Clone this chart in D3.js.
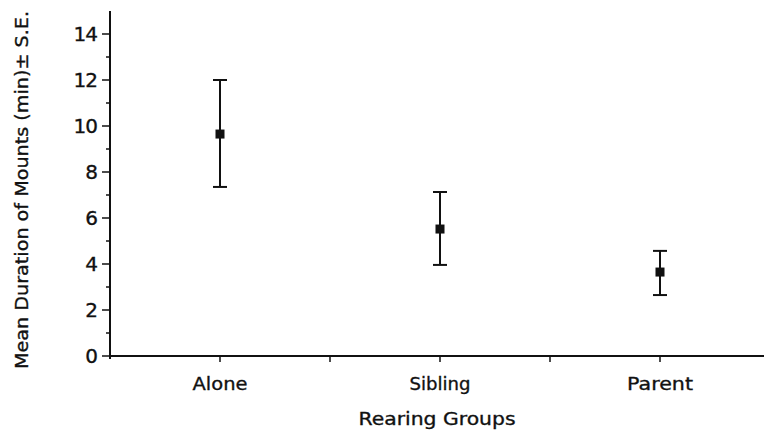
<!DOCTYPE html>
<html>
<head>
<meta charset="utf-8">
<script src="https://cdn.jsdelivr.net/npm/d3@7"></script>
<style>
  html, body { margin: 0; padding: 0; background: #fff; }
  svg { display: block; }
  text { font-family: "DejaVu Sans", sans-serif; fill: #111; stroke: #111; stroke-width: 0.35; }
</style>
</head>
<body>
<svg id="chart" width="764" height="432"></svg>
<script>
// Data
const categories = ["Alone", "Sibling", "Parent"];
const means = [9.65, 5.52, 3.65];
const upper = [12.0, 7.13, 4.57];
const lower = [7.35, 3.96, 2.65];
const yTicks = [0, 2, 4, 6, 8, 10, 12, 14];
const yMinorTicks = [1, 3, 5, 7, 9, 11, 13];
const xLabel = "Rearing Groups";
const yLabel = "Mean Duration of Mounts (min)± S.E.";

const svg = d3.select("#chart");
const x = d3.scaleLinear().domain([0.5, 3.5]).range([110, 770]);
const y = d3.scaleLinear().domain([0, 15]).range([356, 11]);

// Y axis
const yAxis = svg.append("g").attr("transform", "translate(110,0)");
yAxis.append("line").attr("x1", 0).attr("x2", 0).attr("y1", y(15)).attr("y2", y(0) + 3)
  .attr("stroke", "#111").attr("stroke-width", 2);
yAxis.selectAll(".maj").data(yTicks).enter().append("line")
  .attr("x1", -8).attr("x2", 0).attr("y1", d => y(d)).attr("y2", d => y(d))
  .attr("stroke", "#111").attr("stroke-width", 1.5);
yAxis.selectAll(".min").data(yMinorTicks).enter().append("line")
  .attr("x1", -4).attr("x2", 0).attr("y1", d => y(d)).attr("y2", d => y(d))
  .attr("stroke", "#111").attr("stroke-width", 1.5);
yAxis.selectAll(".lab").data(yTicks).enter().append("text")
  .attr("x", -13).attr("y", d => y(d)).attr("dy", "0.36em")
  .attr("text-anchor", "end").attr("font-size", 20).attr("letter-spacing", -1)
  .text(d => d);

// X axis
const xAxis = svg.append("g");
xAxis.append("line").attr("x1", x(0.5)).attr("x2", x(3.5)).attr("y1", y(0)).attr("y2", y(0))
  .attr("stroke", "#111").attr("stroke-width", 2);
const xTickVals = [1, 1.5, 2, 2.5, 3];
xAxis.selectAll(".xt").data(xTickVals).enter().append("line")
  .attr("x1", d => x(d)).attr("x2", d => x(d)).attr("y1", y(0)).attr("y2", y(0) + 6)
  .attr("stroke", "#111").attr("stroke-width", 1.5);
const xLabLen = [55, 61, 66];
xAxis.selectAll(".xl").data(categories).enter().append("text")
  .attr("x", (d, i) => x(i + 1)).attr("y", 390)
  .attr("text-anchor", "middle").attr("font-size", 18)
  .attr("textLength", (d, i) => xLabLen[i]).attr("lengthAdjust", "spacingAndGlyphs")
  .text(d => d);

// Axis titles
svg.append("text").attr("x", x(2) - 3).attr("y", 425).attr("text-anchor", "middle")
  .attr("font-size", 18).attr("textLength", 157).attr("lengthAdjust", "spacingAndGlyphs")
  .text(xLabel);
svg.append("text").attr("transform", "translate(28,190) rotate(-90)")
  .attr("text-anchor", "middle").attr("font-size", 18)
  .attr("textLength", 358).attr("lengthAdjust", "spacingAndGlyphs").text(yLabel);

// Error bars
const g = svg.append("g");
const pts = categories.map((c, i) => ({ c, i, m: means[i], u: upper[i], l: lower[i] }));
g.selectAll(".stem").data(pts).enter().append("line")
  .attr("x1", d => x(d.i + 1)).attr("x2", d => x(d.i + 1))
  .attr("y1", d => y(d.u)).attr("y2", d => y(d.l))
  .attr("stroke", "#111").attr("stroke-width", 2);
g.selectAll(".capU").data(pts).enter().append("line")
  .attr("x1", d => x(d.i + 1) - 7).attr("x2", d => x(d.i + 1) + 7)
  .attr("y1", d => y(d.u)).attr("y2", d => y(d.u))
  .attr("stroke", "#111").attr("stroke-width", 2);
g.selectAll(".capL").data(pts).enter().append("line")
  .attr("x1", d => x(d.i + 1) - 7).attr("x2", d => x(d.i + 1) + 7)
  .attr("y1", d => y(d.l)).attr("y2", d => y(d.l))
  .attr("stroke", "#111").attr("stroke-width", 2);
g.selectAll(".pt").data(pts).enter().append("rect")
  .attr("x", d => x(d.i + 1) - 4.5).attr("y", d => y(d.m) - 4.5)
  .attr("width", 9).attr("height", 9).attr("fill", "#111");
</script>
</body>
</html>
